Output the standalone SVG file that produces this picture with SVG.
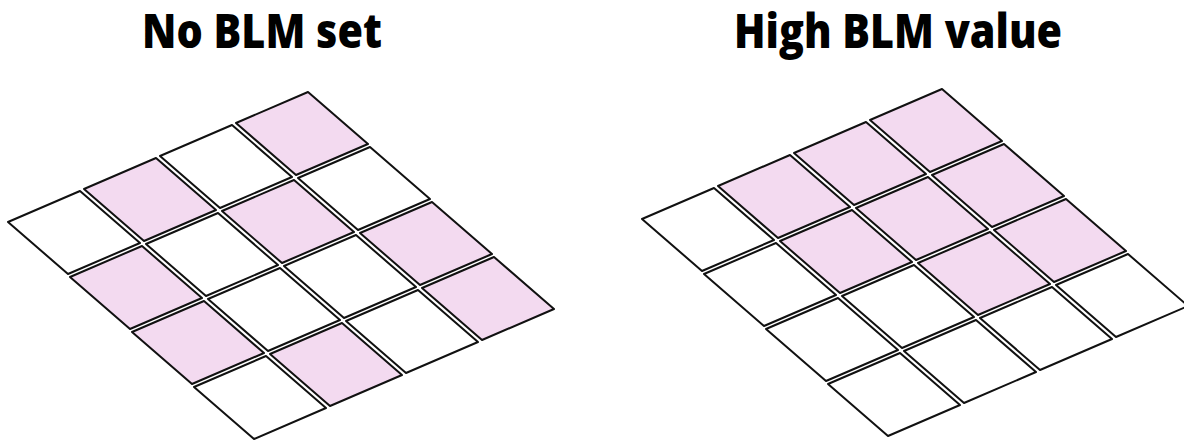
<svg xmlns="http://www.w3.org/2000/svg" xmlns:xlink="http://www.w3.org/1999/xlink" width="1184" height="441" viewBox="0 0 1184 441">
<style>
.title{font-family:"Open Sans","Noto Sans","Liberation Sans",sans-serif;font-weight:800;font-size:48px;fill:#000;text-anchor:middle}
.w{fill:#ffffff}
.p{fill:#f3daf0}
</style>
<defs>
<polygon id="tile" points="0,0 72,-31 132,21 60,52" stroke="#111" stroke-width="2" stroke-linejoin="round"/>
</defs>
<rect width="1184" height="441" fill="#fff"/>
<g id="title-left"><text class="title" x="262" y="48" textLength="240" lengthAdjust="spacingAndGlyphs">No BLM set</text></g>
<g id="title-right"><text class="title" x="898" y="48" textLength="328" lengthAdjust="spacingAndGlyphs">High BLM value</text></g>
<g id="grid-left">
<use href="#tile" class="w" x="8" y="222"/>
<use href="#tile" class="p" x="84" y="189"/>
<use href="#tile" class="w" x="160" y="156"/>
<use href="#tile" class="p" x="236" y="123"/>
<use href="#tile" class="p" x="70" y="277"/>
<use href="#tile" class="w" x="146" y="244"/>
<use href="#tile" class="p" x="222" y="211"/>
<use href="#tile" class="w" x="298" y="178"/>
<use href="#tile" class="p" x="132" y="332"/>
<use href="#tile" class="w" x="208" y="299"/>
<use href="#tile" class="w" x="284" y="266"/>
<use href="#tile" class="p" x="360" y="233"/>
<use href="#tile" class="w" x="194" y="387"/>
<use href="#tile" class="p" x="270" y="354"/>
<use href="#tile" class="w" x="346" y="321"/>
<use href="#tile" class="p" x="422" y="288"/>
</g>
<g id="grid-right">
<use href="#tile" class="w" x="642" y="219"/>
<use href="#tile" class="p" x="718" y="186"/>
<use href="#tile" class="p" x="794" y="153"/>
<use href="#tile" class="p" x="870" y="120"/>
<use href="#tile" class="w" x="704" y="274"/>
<use href="#tile" class="p" x="780" y="241"/>
<use href="#tile" class="p" x="856" y="208"/>
<use href="#tile" class="p" x="932" y="175"/>
<use href="#tile" class="w" x="766" y="329"/>
<use href="#tile" class="w" x="842" y="296"/>
<use href="#tile" class="p" x="918" y="263"/>
<use href="#tile" class="p" x="994" y="230"/>
<use href="#tile" class="w" x="828" y="384"/>
<use href="#tile" class="w" x="904" y="351"/>
<use href="#tile" class="w" x="980" y="318"/>
<use href="#tile" class="w" x="1056" y="285"/>
</g>
</svg>
